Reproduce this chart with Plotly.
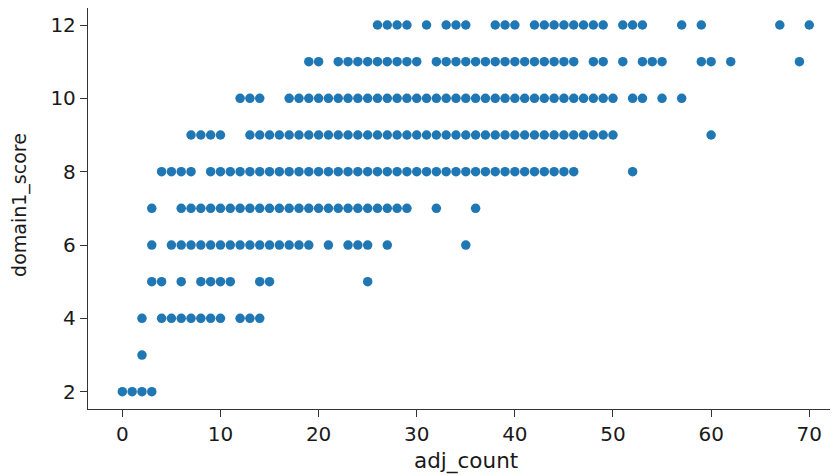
import plotly.graph_objects as go

# adj_count values observed at each domain1_score level
score_levels = [12, 11, 10, 9, 8, 7, 6, 5, 4, 3, 2]

counts_12 = [26, 27, 28, 29, 31, 33, 34, 35, 38, 39, 40, 42, 43, 44, 45, 46, 47, 48, 49,
             51, 52, 53, 57, 59, 67, 70]
counts_11 = [19, 20, 22, 23, 24, 25, 26, 27, 28, 29, 30, 32, 33, 34, 35, 36, 37, 38, 39,
             40, 41, 42, 43, 44, 45, 46, 48, 49, 51, 53, 54, 55, 59, 60, 62, 69]
counts_10 = [12, 13, 14, 17, 18, 19, 20, 21, 22, 23, 24, 25, 26, 27, 28, 29, 30, 31, 32,
             33, 34, 35, 36, 37, 38, 39, 40, 41, 42, 43, 44, 45, 46, 47, 48, 49, 50, 52,
             53, 55, 57]
counts_9 = [7, 8, 9, 10, 13, 14, 15, 16, 17, 18, 19, 20, 21, 22, 23, 24, 25, 26, 27, 28,
            29, 30, 31, 32, 33, 34, 35, 36, 37, 38, 39, 40, 41, 42, 43, 44, 45, 46, 47, 48,
            49, 50, 60]
counts_8 = [4, 5, 6, 7, 9, 10, 11, 12, 13, 14, 15, 16, 17, 18, 19, 20, 21, 22, 23, 24, 25,
            26, 27, 28, 29, 30, 31, 32, 33, 34, 35, 36, 37, 38, 39, 40, 41, 42, 43, 44, 45,
            46, 52]
counts_7 = [3, 6, 7, 8, 9, 10, 11, 12, 13, 14, 15, 16, 17, 18, 19, 20, 21, 22, 23, 24, 25,
            26, 27, 28, 29, 32, 36]
counts_6 = [3, 5, 6, 7, 8, 9, 10, 11, 12, 13, 14, 15, 16, 17, 18, 19, 21, 23, 24, 25, 27, 35]
counts_5 = [3, 4, 6, 8, 9, 10, 11, 14, 15, 25]
counts_4 = [2, 4, 5, 6, 7, 8, 9, 10, 12, 13, 14]
counts_3 = [2]
counts_2 = [0, 1, 2, 3]

counts_by_level = [counts_12, counts_11, counts_10, counts_9, counts_8, counts_7,
                   counts_6, counts_5, counts_4, counts_3, counts_2]

x_ticks = [0, 10, 20, 30, 40, 50, 60, 70]
y_ticks = [2, 4, 6, 8, 10, 12]

xs, ys = [], []
for level, cnts in zip(score_levels, counts_by_level):
    xs.extend(cnts)
    ys.extend([level] * len(cnts))

fig = go.Figure(go.Scatter(
    x=xs, y=ys, mode="markers",
    marker=dict(color="#1f77b4", size=9.5, line=dict(width=0)),
    showlegend=False,
))

font = dict(family="DejaVu Sans", size=20, color="#1a1a1a")
# The page body adds an 8px margin, so the figure is sized/offset to compensate.
fig.update_layout(
    width=830, height=468,
    margin=dict(l=80, r=0, t=0, b=67),
    paper_bgcolor="white", plot_bgcolor="white",
    font=font,
)
fig.update_xaxes(
    range=[-3.5, 72.93], tickvals=x_ticks, ticktext=[str(v) for v in x_ticks],
    showgrid=False, zeroline=False, automargin=False,
    showline=True, linecolor="#333333", linewidth=1.3, mirror=True,
    ticks="outside", ticklen=7, tickwidth=1.3, tickcolor="#333333",
    tickfont=font,
)
fig.update_yaxes(
    range=[1.528, 12.4636], tickvals=y_ticks, ticktext=[str(v) for v in y_ticks],
    showgrid=False, zeroline=False, automargin=False,
    showline=True, linecolor="#333333", linewidth=1.3, mirror=False,
    ticks="outside", ticklen=7, tickwidth=1.3, tickcolor="#333333",
    tickfont=font,
)
fig.add_annotation(
    text="adj_count", xref="paper", yref="paper", x=0.504, y=0,
    xanchor="center", yanchor="middle", yshift=-52, showarrow=False,
    font=dict(family="DejaVu Sans", size=21.5, color="#1a1a1a"),
)
fig.add_annotation(
    text="domain1_score", xref="paper", yref="paper", x=0, y=0.509,
    xanchor="center", yanchor="middle", xshift=-68, textangle=-90, showarrow=False,
    font=dict(family="DejaVu Sans", size=19, color="#1a1a1a"),
)

fig.write_html("out.html")
